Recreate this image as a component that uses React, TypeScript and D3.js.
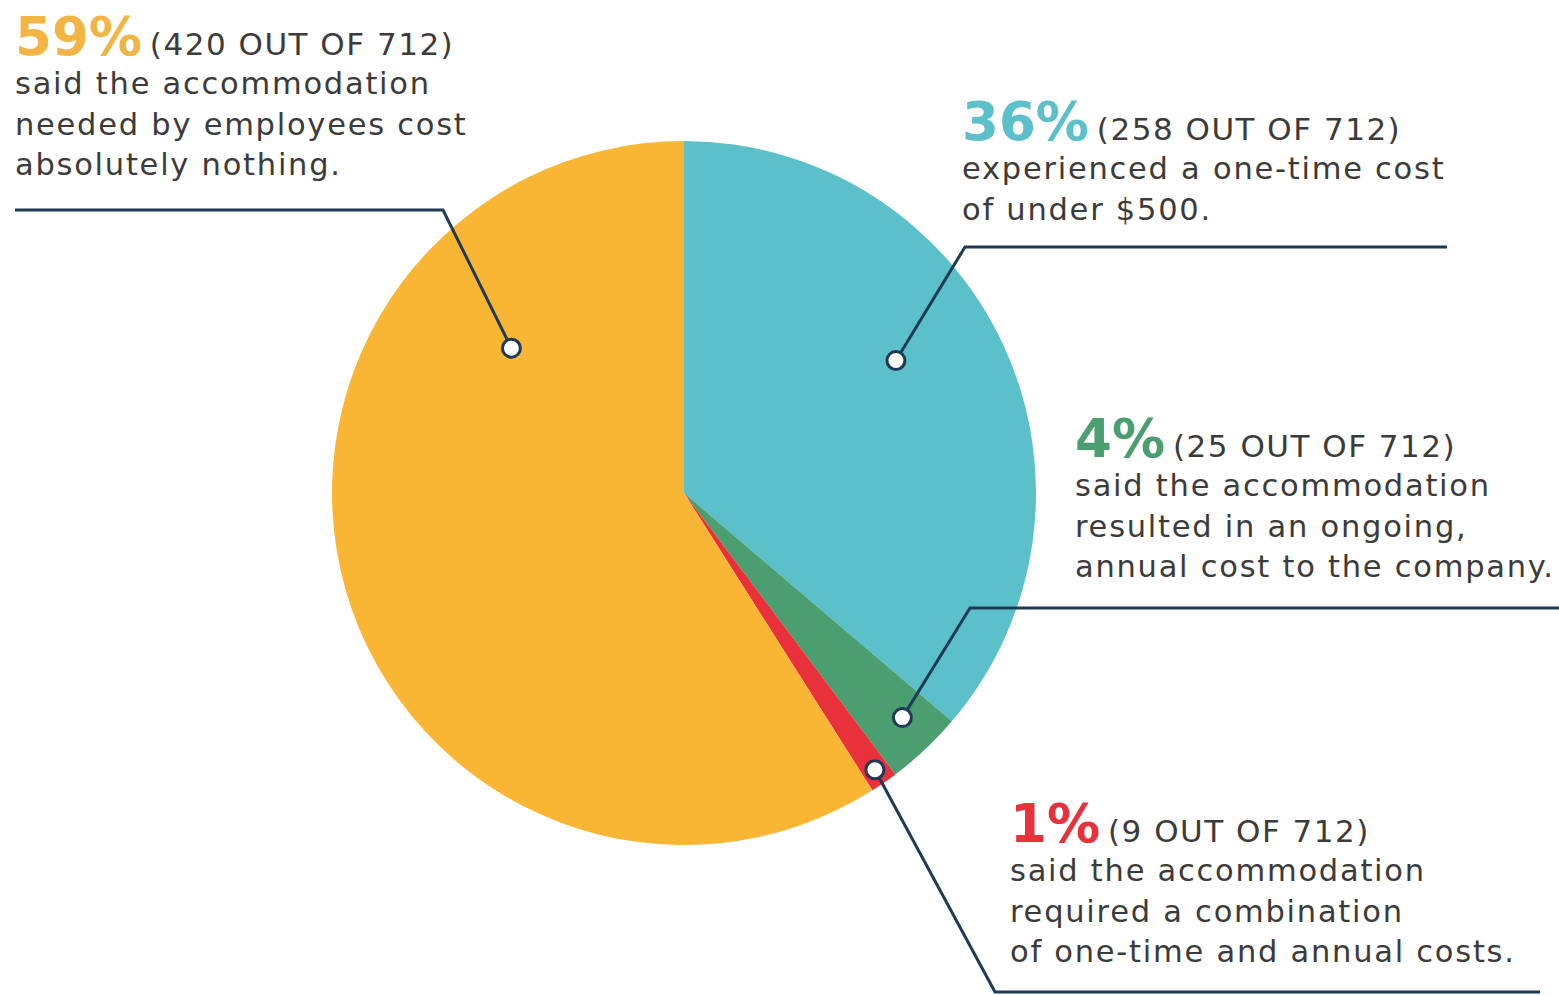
// @ts-nocheck
import * as d3 from "d3"
import { useEffect, useRef } from "react"
import * as React from "react"

const categories = ["one-time", "ongoing", "combination", "nothing"]
const counts = [258, 25, 9, 420]
const total = 712
const percents = ["36%", "4%", "1%", "59%"]
const colors = ["#5bc0c9", "#4a9e70", "#e8313b", "#f9b634"]
const pctColors = ["#5bc0c9", "#4a9e70", "#e8313b", "#f2b443"]
const descriptions = [
  ["experienced a one-time cost", "of under $500."],
  ["said the accommodation", "resulted in an ongoing,", "annual cost to the company."],
  ["said the accommodation", "required a combination", "of one-time and annual costs."],
  ["said the accommodation", "needed by employees cost", "absolutely nothing."],
]

// label layout: text anchor, dot (angle deg clockwise from top, radius fraction), leader path
const labelLayout = [
  { x: 962, y: 140, dotAngle: 58, dotR: 0.71, elbow: [965, 247], end: [1447, 247] },
  { x: 1075, y: 457, dotAngle: 135.8, dotR: 0.89, elbow: [970, 608], end: [1559, 608] },
  { x: 1010, y: 842, dotAngle: 145.4, dotR: 0.955, elbow: [995, 992], end: [1540, 992] },
  { x: 15, y: 55, dotAngle: 310, dotR: 0.64, elbow: [443, 210], end: [15, 210] },
]

const W = 1559
const H = 995
const cx = 684
const cy = 493
const R = 352

function buildSVG() {
  const svg = d3.create("svg")
    .attr("width", W)
    .attr("height", H)
    .style("display", "block")
    .style("background", "#fff")

  const data = categories.map((c, i) => ({ name: c, value: counts[i], i }))
  const pie = d3.pie().value(d => d.value).sort(null)
  const arcs = pie(data)
  const arc = d3.arc().innerRadius(0).outerRadius(R)

  const g = svg.append("g").attr("transform", `translate(${cx},${cy})`)
  g.selectAll("path")
    .data(arcs)
    .join("path")
    .attr("d", arc)
    .attr("fill", d => colors[d.data.i])

  const font = "'DejaVu Sans', sans-serif"
  const lines = svg.append("g")
  const dots = svg.append("g")
  labelLayout.forEach((l, i) => {
    const a = l.dotAngle * Math.PI / 180
    const dx = cx + Math.sin(a) * R * l.dotR
    const dy = cy - Math.cos(a) * R * l.dotR
    lines.append("path")
      .attr("d", d3.line()([[dx, dy], l.elbow, l.end]))
      .attr("fill", "none")
      .attr("stroke", "#1e3a55")
      .attr("stroke-width", 3)
    dots.append("circle")
      .attr("cx", dx).attr("cy", dy).attr("r", 9)
      .attr("fill", "#fff")
      .attr("stroke", "#1e3a55")
      .attr("stroke-width", 3)

    const t = svg.append("text")
      .attr("x", l.x).attr("y", l.y)
      .style("font-family", font)
      .attr("fill", "#3b3b3b")
    t.append("tspan")
      .text(percents[i])
      .attr("fill", pctColors[i])
      .style("font-weight", 700)
      .style("font-size", "53px")
    t.append("tspan")
      .text(`(${counts[i]} OUT OF ${total})`)
      .style("font-size", "31px")
      .style("letter-spacing", "1.5px")
      .attr("dx", 8)

    svg.append("text")
      .attr("x", l.x).attr("y", l.y + 39)
      .style("font-family", font)
      .style("font-size", "30.5px")
      .style("letter-spacing", "1.75px")
      .attr("fill", "#3b3b3b")
      .selectAll("tspan")
      .data(descriptions[i])
      .join("tspan")
      .attr("x", l.x)
      .attr("dy", (d, j) => j === 0 ? 0 : 40.5)
      .text(d => d)
  })

  return svg
}

export default function App() {
  const ref = useRef<HTMLDivElement>(null)
  useEffect(() => {
    const el = ref.current
    while (el.hasChildNodes()) el.removeChild(el.lastChild)
    el.append(buildSVG().node())
  }, [])
  return <div ref={ref} style={{ position: "absolute", left: 0, top: 0 }} />
}
